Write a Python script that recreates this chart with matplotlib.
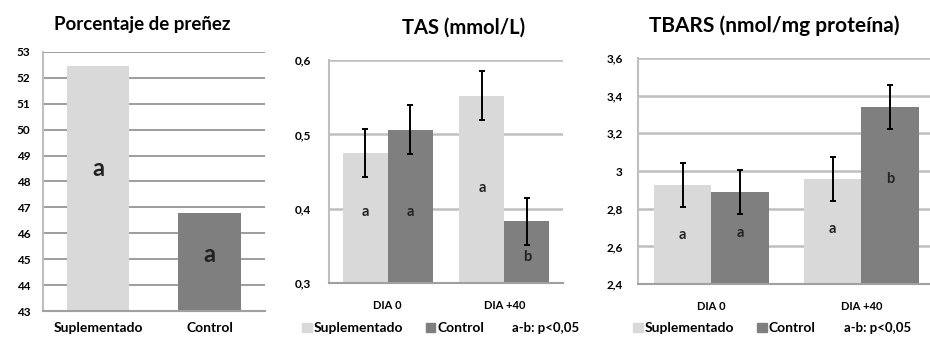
import numpy as np
import matplotlib
matplotlib.use("Agg")
import matplotlib.pyplot as plt
from matplotlib.patches import Patch

plt.rcParams['font.family'] = ['Lato', 'DejaVu Sans']

# Porcentaje de preñez
preg_groups = ["Suplementado", "Control"]
preg_values = [52.45, 46.8]
preg_letters = ["a", "a"]

# TAS
days = ["DIA 0", "DIA +40"]
tas_supl = [0.475, 0.552]
tas_ctrl = [0.506, 0.383]
tas_supl_err = [0.032, 0.033]
tas_ctrl_err = [0.033, 0.032]
tas_supl_let = ["a", "a"]
tas_ctrl_let = ["a", "b"]
tas_supl_let_y = [0.395, 0.428]
tas_ctrl_let_y = [0.395, 0.335]

# TBARS
tb_supl = [2.926, 2.958]
tb_ctrl = [2.889, 3.34]
tb_supl_err = [0.116, 0.117]
tb_ctrl_err = [0.117, 0.117]
tb_supl_let = ["a", "a"]
tb_ctrl_let = ["a", "b"]
tb_supl_let_y = [2.66, 2.69]
tb_ctrl_let_y = [2.67, 2.96]

LIGHT = "#d9d9d9"
DARK = "#7f7f7f"
W = "bold"

fig = plt.figure(figsize=(9.3, 3.37), dpi=100)


def style(ax, gridcol, gridlw, ypad):
    for s in ["top", "right"]:
        ax.spines[s].set_visible(False)
    ax.spines["left"].set_color("#bfbfbf")
    ax.spines["left"].set_linewidth(1.5)
    ax.spines["bottom"].set_color("#a0a0a0")
    ax.spines["bottom"].set_linewidth(1.5)
    ax.yaxis.grid(True, color=gridcol, linewidth=gridlw)
    ax.set_axisbelow(True)
    ax.tick_params(length=0, labelsize=8.5)
    ax.tick_params(axis="y", pad=ypad)
    for lab in ax.get_yticklabels() + ax.get_xticklabels():
        lab.set_fontweight(W)


# panel 1
ax1 = fig.add_axes([0.046, 0.077, 0.239, 0.769])
x = np.arange(len(preg_groups))
ax1.bar(x, np.array(preg_values) - 43, bottom=43, width=0.56, color=[LIGHT, DARK])
ax1.set_ylim(43, 53)
ax1.set_xlim(-0.5, 1.5)
ax1.set_yticks(np.arange(43, 54, 1))
ax1.set_xticks(x)
ax1.set_xticklabels(preg_groups)
style(ax1, "#8c8c8c", 1.2, 9)
ax1.tick_params(axis="x", labelsize=10, pad=8)
for lab in ax1.get_xticklabels():
    lab.set_fontweight(W)
for xi, l, yy in zip(x, preg_letters, [48.5, 45.2]):
    ax1.text(xi, yy, l, ha="center", va="center", fontsize=17, fontweight=W, color="#222222")
fig.text(0.153, 0.928, "Porcentaje de preñez", ha="center", va="center", fontsize=13.5, fontweight=W)


def grouped(ax, supl, ctrl, se, ce, sl, cl, sly, cly, ylim, yticks, xlim, ypad):
    xx = np.arange(len(days))
    w = 0.385
    ax.bar(xx - w / 2, supl, width=w, color=LIGHT, label="Suplementado")
    ax.bar(xx + w / 2, ctrl, width=w, color=DARK, label="Control")
    ax.errorbar(xx - w / 2, supl, yerr=se, fmt="none", ecolor="black", elinewidth=1.4, capsize=2, capthick=1.4)
    ax.errorbar(xx + w / 2, ctrl, yerr=ce, fmt="none", ecolor="black", elinewidth=1.4, capsize=2, capthick=1.4)
    for i in range(len(days)):
        ax.text(xx[i] - w / 2, sly[i], sl[i], ha="center", va="center", fontsize=10.5, fontweight=W, color="#222222")
        ax.text(xx[i] + w / 2, cly[i], cl[i], ha="center", va="center", fontsize=10.5, fontweight=W, color="#222222")
    ax.set_ylim(*ylim)
    ax.set_xlim(*xlim)
    ax.set_yticks(yticks)
    ax.set_yticklabels([("%.1f" % v).rstrip("0").rstrip(".").replace(".", ",") for v in yticks])
    ax.set_xticks(xx)
    ax.set_xticklabels(days)
    style(ax, "#bfbfbf", 1.8, ypad)
    ax.tick_params(axis="x", labelsize=8, pad=12)
    for lab in ax.get_xticklabels():
        lab.set_fontweight(W)


ax2 = fig.add_axes([0.354, 0.160, 0.251, 0.662])
grouped(ax2, tas_supl, tas_ctrl, tas_supl_err, tas_ctrl_err, tas_supl_let, tas_ctrl_let,
        tas_supl_let_y, tas_ctrl_let_y, (0.3, 0.6), [0.3, 0.4, 0.5, 0.6], (-0.5, 1.5), 13)
fig.text(0.498, 0.917, "TAS (mmol/L)", ha="center", va="center", fontsize=14.5, fontweight=W)

ax3 = fig.add_axes([0.686, 0.157, 0.314, 0.671])
grouped(ax3, tb_supl, tb_ctrl, tb_supl_err, tb_ctrl_err, tb_supl_let, tb_ctrl_let,
        tb_supl_let_y, tb_ctrl_let_y, (2.4, 3.6), [2.4, 2.6, 2.8, 3.0, 3.2, 3.4, 3.6], (-0.49, 1.457), 11)
fig.text(0.832, 0.925, "TBARS (nmol/mg proteína)", ha="center", va="center", fontsize=15, fontweight=W)

# legends
handles = [Patch(color=LIGHT), Patch(color=DARK)]
for lx, tx in [(0.316, 0.551), (0.672, 0.908)]:
    fig.legend(handles, ["Suplementado", "Control"], loc="center left", bbox_to_anchor=(lx, 0.026),
               ncol=2, frameon=False, handlelength=0.7, handleheight=0.7, handletextpad=0.15,
               columnspacing=1.6, borderpad=0.1, prop={"size": 10, "weight": W})
    fig.text(tx, 0.028, "a-b: p<0,05", ha="left", va="center", fontsize=9.5, fontweight=W)

fig.savefig("out.png", dpi=100)
